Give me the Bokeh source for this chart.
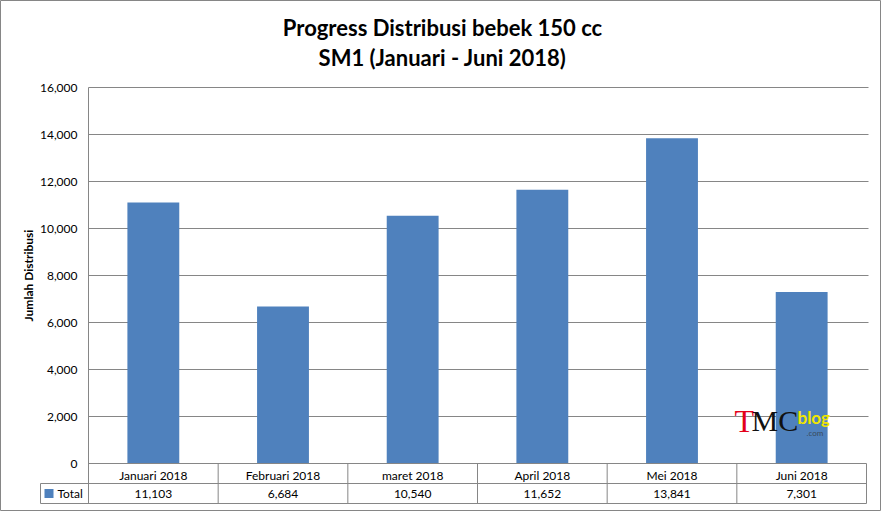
import math
from bokeh.plotting import figure
from bokeh.models import (Range1d, LinearAxis, FixedTicker, NumeralTickFormatter,
                          Label, ColumnDataSource)
from bokeh.core.properties import value
from bokeh.embed import file_html
from bokeh.resources import INLINE

# ---- data ----
categories = ["Januari 2018", "Februari 2018", "maret 2018", "April 2018", "Mei 2018", "Juni 2018"]
totals = [11103, 6684, 10540, 11652, 13841, 7301]
y_ticks = [0, 2000, 4000, 6000, 8000, 10000, 12000, 14000, 16000]
series_name = "Total"
title_lines = ["Progress Distribusi bebek 150 cc", "SM1 (Januari - Juni 2018)"]
y_title = "Jumlah Distribusi"

BAR = "#4F81BD"
GRID = "#868686"
FONT = "Lato"

# page geometry (pixels, reference picture coordinates)
W, H = 881, 511
OFF = 0
PL, PR = 88.0, 866.0          # category area left / right
PT, P0 = 87.0, 463.0          # value top (max tick) / zero line
TB = 503.0                    # bottom of data table
LEG = 40.0                    # left of legend cell
ncat = len(categories)
ymax = y_ticks[-1]
ppx = ncat / (PR - PL)        # data units per px (x)
ppy = ymax / (P0 - PT)        # data units per px (y)

def dx(px):
    return (px - PL) * ppx

def dy(py):
    return (P0 - py) * ppy

p = figure(width=W, height=H, output_backend="svg", toolbar_location=None,
           x_range=Range1d(dx(OFF), dx(OFF + W)), y_range=Range1d(dy(OFF + H), dy(OFF)),
           x_axis_location=None, y_axis_location=None,
           min_border_left=0, min_border_right=0, min_border_top=0, min_border_bottom=0)
p.outline_line_color = GRID
p.xgrid.visible = False
p.ygrid.visible = False

xs = [i + 0.5 for i in range(ncat)]
ybot = dy(TB)
ymid = dy((P0 + TB) / 2)
xleg = dx(LEG)

# gridlines (only over the category area)
gl = [t for t in y_ticks if t > 0]
p.segment(x0=[0] * len(gl), x1=[dx(868)] * len(gl), y0=gl, y1=gl, line_color=GRID, line_width=1)

# bars
src = ColumnDataSource(dict(x=xs, top=totals, cat=categories))
p.vbar(x="x", top="top", bottom=0, width=0.4, source=src, fill_color=BAR, line_color=None)

# data table lines
p.segment(x0=[0, xleg, xleg], x1=[ncat, ncat, ncat], y0=[0, ymid, ybot], y1=[0, ymid, ybot],
          line_color=GRID, line_width=1)
vx = list(range(1, ncat + 1))
p.segment(x0=vx, x1=vx, y0=[0] * len(vx), y1=[ybot] * len(vx), line_color=GRID, line_width=1)
p.segment(x0=[xleg, 0], x1=[xleg, 0], y0=[ymid, ymax], y1=[ybot, ybot], line_color=GRID, line_width=1)

# y axis at x = 0
yaxis = LinearAxis(fixed_location=0, ticker=FixedTicker(ticks=y_ticks),
                   formatter=NumeralTickFormatter(format="0,0"))
yaxis.axis_line_color = None
yaxis.major_tick_line_color = None
yaxis.minor_tick_line_color = None
yaxis.major_tick_out = 0
yaxis.major_tick_in = 0
yaxis.major_label_standoff = 11
yaxis.major_label_text_font = FONT
yaxis.major_label_text_font_size = "12px"
yaxis.major_label_text_color = "#000000"
p.add_layout(yaxis, "left")

# x axis (category row of the table) at y = 0
xaxis = LinearAxis(fixed_location=0, ticker=FixedTicker(ticks=xs),
                   major_label_overrides={x: c for x, c in zip(xs, categories)})
xaxis.axis_line_color = None
xaxis.major_tick_line_color = None
xaxis.minor_tick_line_color = None
xaxis.major_tick_out = 0
xaxis.major_tick_in = 0
xaxis.major_label_standoff = 4
xaxis.major_label_text_font = FONT
xaxis.major_label_text_font_size = "12px"
xaxis.major_label_text_color = "#000000"
p.add_layout(xaxis, "below")

# values row
p.text(x=xs, y=[dy(493)] * ncat, text=[f"{v:,}" for v in totals],
       text_align="center", text_baseline="middle", text_font=value(FONT),
       text_font_size="12px", text_color="#000000")

# legend cell
p.scatter(x=[dx(48.5)], y=[dy(493)], marker="square", size=9,
          fill_color=BAR, line_color=None)
p.text(x=[dx(57)], y=[dy(493)], text=[series_name],
       text_align="left", text_baseline="middle", text_font=value(FONT),
       text_font_size="12px", text_color="#000000")

# titles
tx = dx(442)
p.add_layout(Label(x=tx, y=dy(27), text=title_lines[0], text_align="center",
                   text_baseline="middle", text_font=FONT, text_font_style="bold",
                   text_font_size="22px", text_color="#000000"))
p.add_layout(Label(x=tx, y=dy(57), text=title_lines[1], text_align="center",
                   text_baseline="middle", text_font=FONT, text_font_style="bold",
                   text_font_size="22px", text_color="#000000"))
p.add_layout(Label(x=dx(28), y=ymax / 2, text=y_title, angle=math.pi / 2,
                   text_align="center", text_baseline="middle", text_font=FONT,
                   text_font_style="bold", text_font_size="12px", text_color="#000000"))

# watermark logo
p.add_layout(Label(x=dx(734), y=dy(420), text="T", text_font="Liberation Serif",
                   text_font_size="32px", text_color="#E3001B", text_baseline="middle"))
p.add_layout(Label(x=dx(751), y=dy(420), text="MC", text_font="Liberation Serif",
                   text_font_size="30px", text_color="#111111", text_baseline="middle"))
p.add_layout(Label(x=dx(797), y=dy(417), text="blog", text_font=FONT,
                   text_font_style="bold", text_font_size="17px", text_color="#F2E600",
                   text_baseline="middle"))
p.add_layout(Label(x=dx(806), y=dy(432), text=".com", text_font=FONT,
                   text_font_size="8px", text_color="#3A4A5A", text_baseline="middle"))

open("out.html", "w").write(file_html(p, INLINE))
